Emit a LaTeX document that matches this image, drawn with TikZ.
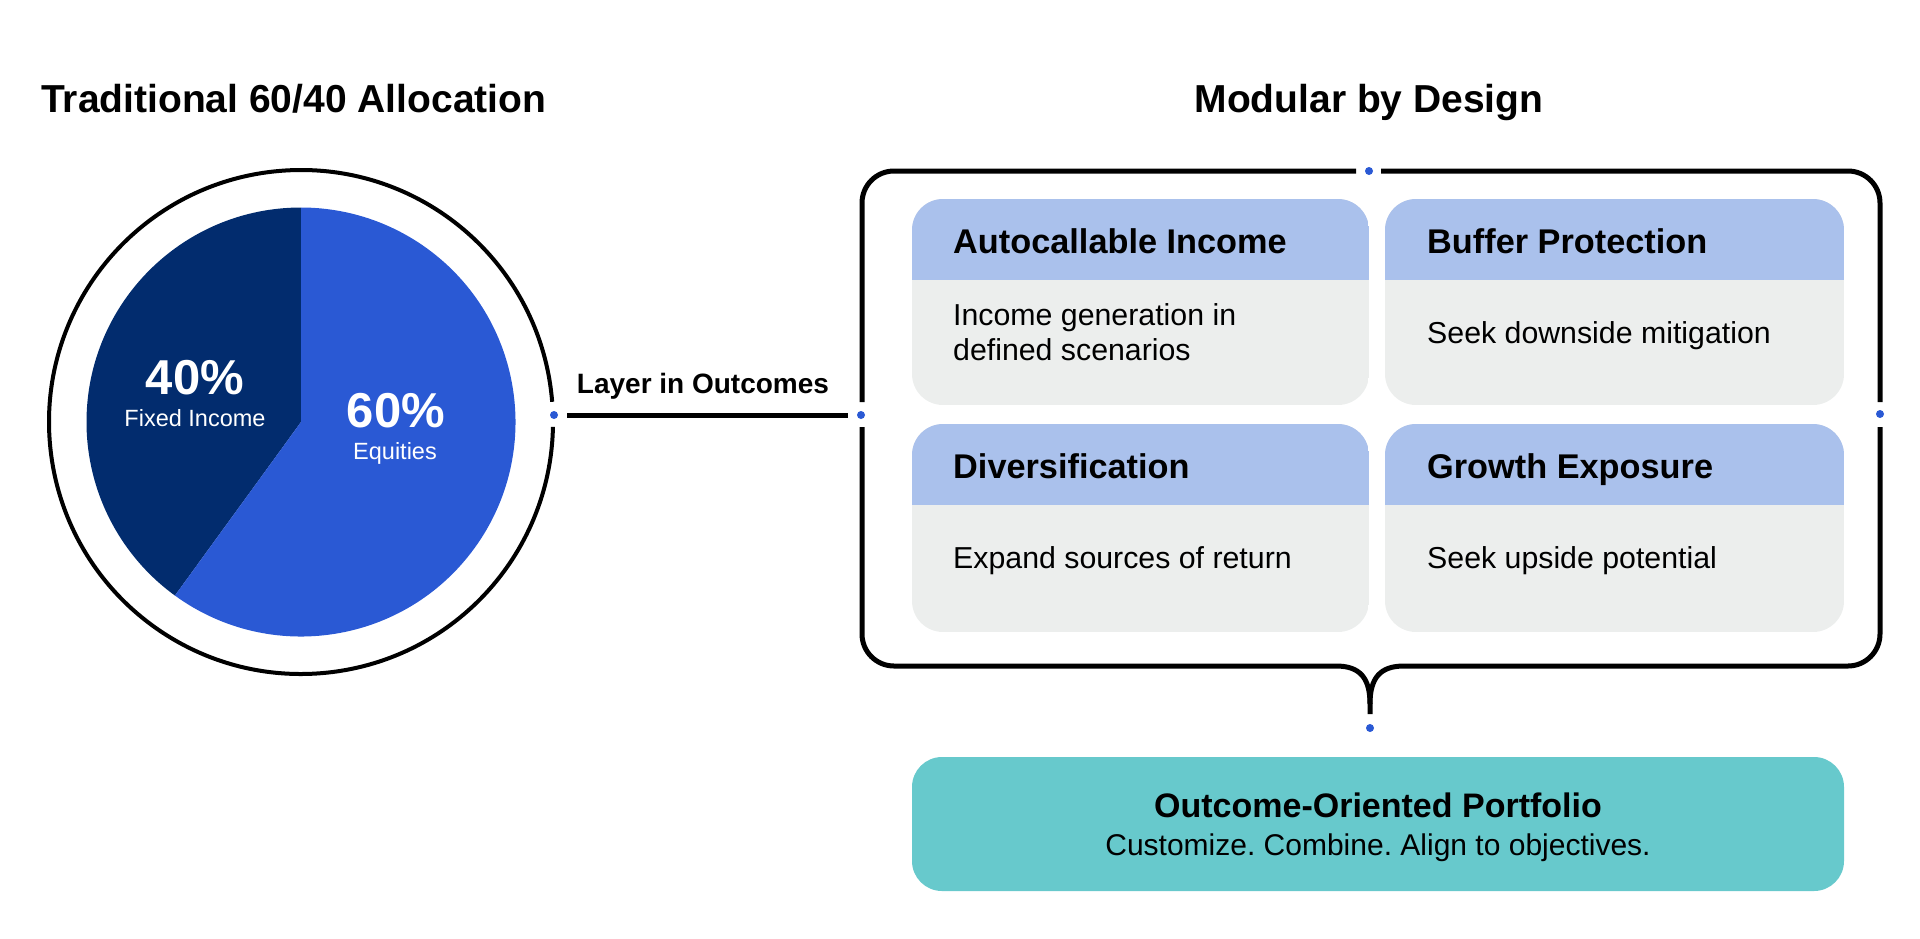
\documentclass[tikz,border=0pt]{standalone}
\usepackage{fontspec}
\setmainfont{Liberation Sans}
\definecolor{navy}{HTML}{022C6E}
\definecolor{pieblue}{HTML}{2A59D4}
\definecolor{hdrblue}{HTML}{AAC1EC}
\definecolor{bodygray}{HTML}{ECEEED}
\definecolor{tealbox}{HTML}{67C9CC}
\newcommand{\modcard}[4]{%
  \begin{scope}
    \clip[rounded corners=31pt] (#1,-#2) rectangle (#3,-#4);
    \fill[bodygray] (#1,-#2) rectangle (#3,-#4);
    \fill[hdrblue] (#1,-#2) rectangle (#3,-#2-81);
  \end{scope}}
\frenchspacing
\begin{document}
\begin{tikzpicture}[x=1pt,y=1pt,
  dot/.style={circle,fill=pieblue,inner sep=0pt,minimum size=8pt},
  heading/.style={font=\fontsize{39}{45}\selectfont\bfseries,inner sep=0pt},
  cardtitle/.style={font=\fontsize{34.3}{40}\selectfont\bfseries,anchor=base west,inner sep=0pt},
  cardbody/.style={font=\fontsize{30.3}{36}\selectfont,anchor=base west,inner sep=0pt},
  pct/.style={font=\fontsize{49}{56}\selectfont\bfseries,text=white,anchor=base,inner sep=0pt},
  pctlabel/.style={font=\fontsize{23.5}{28}\selectfont,text=white,anchor=base,inner sep=0pt},
  outline/.style={line width=5pt,line join=round},
  ring/.style={line width=4pt}]
\useasboundingbox (0,0) rectangle (1920,-938);

% titles
\node[heading,anchor=base west] (t1) at (41,-112) {Traditional 60/40 Allocation};
\node[heading,anchor=base] (t2) at (1369,-112) {Modular by Design};

% pie
\fill[navy] (301,-422) -- ++(90:214.5) arc[start angle=90,end angle=234,radius=214.5] -- cycle;
\fill[pieblue] (301,-422) -- ++(234:214.5) arc[start angle=234,end angle=450,radius=214.5] -- cycle;
\draw[ring] (301,-422) ++(4.6:252) arc[start angle=4.6,end angle=358.9,radius=252];

\node[pct] (p40) at (195,-394) {40\%};
\node[pctlabel] (l40) at (195,-426) {Fixed Income};
\node[pct] (p60) at (396,-427) {60\%};
\node[pctlabel] (l60) at (395,-459) {Equities};

% connector
\node[dot] (dC) at (554,-415) {};
\node[dot] (dL) at (861,-415) {};
\node[dot] (dR) at (1880,-414) {};
\node[dot] (dT) at (1369,-171) {};
\node[dot] (dB) at (1370,-728) {};
\draw[line width=5pt,shorten <=9pt,shorten >=9pt] (dC) -- (dL);
\node[font=\fontsize{28}{34}\selectfont\bfseries,anchor=base,inner sep=0pt] (lay) at (703,-393) {Layer in Outcomes};

% bracket box
\draw[outline] (1381,-171) -- (1848,-171) arc[start angle=90,end angle=0,radius=32] -- (1880,-402);
\draw[outline] (1880,-427) -- (1880,-634) arc[start angle=0,end angle=-90,radius=32]
  -- (1404,-666) .. controls (1380,-666) and (1370,-678) .. (1370,-704) -- (1370,-714);
\draw[outline] (1370,-704) .. controls (1370,-678) and (1360,-666) .. (1336,-666)
  -- (894,-666) arc[start angle=270,end angle=180,radius=32] -- (862,-427);
\draw[outline] (862,-402) -- (862,-203) arc[start angle=180,end angle=90,radius=32] -- (1356,-171);

% cards
\modcard{912}{199}{1369}{405}
\modcard{1385}{199}{1844}{405}
\modcard{912}{424}{1369}{632}
\modcard{1385}{424}{1844}{632}

\node[cardtitle] (h1) at (953,-253) {Autocallable Income};
\node[cardbody] (b1a) at (953,-325) {Income generation in};
\node[cardbody] (b1b) at (953,-360.5) {defined scenarios};
\node[cardtitle] (h2) at (1427,-253) {Buffer Protection};
\node[cardbody] (b2) at (1427,-343) {Seek downside mitigation};
\node[cardtitle] (h3) at (953,-478) {Diversification};
\node[cardbody] (b3) at (953,-568) {Expand sources of return};
\node[cardtitle] (h4) at (1427,-478) {Growth Exposure};
\node[cardbody] (b4) at (1427,-568) {Seek upside potential};

% portfolio box
\node[fill=tealbox,rounded corners=30pt,minimum width=932pt,minimum height=134pt,inner sep=0pt] (port) at (1378,-824) {};
\node[font=\fontsize{34}{40}\selectfont\bfseries,anchor=base,inner sep=0pt] (pt) at (1378,-817) {Outcome-Oriented Portfolio};
\node[font=\fontsize{30}{36}\selectfont,anchor=base,inner sep=0pt] (ps) at (1378,-855) {Customize. Combine. Align to objectives.};
\end{tikzpicture}
\end{document}
